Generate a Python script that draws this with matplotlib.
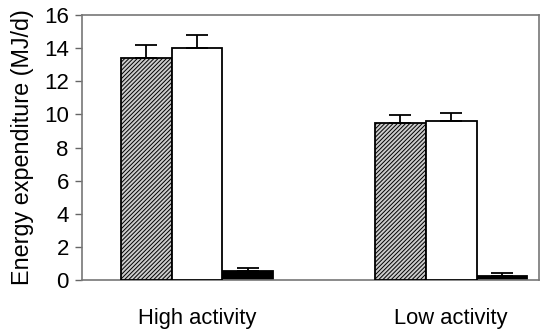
import matplotlib
matplotlib.use("Agg")
import matplotlib.pyplot as plt
import numpy as np

# data
groups = ["High activity", "Low activity"]
series_a = [13.4, 9.45]   # hatched
series_b = [14.0, 9.6]    # white
series_c = [0.55, 0.25]   # black
err_a = [0.8, 0.5]
err_b = [0.8, 0.5]
err_c = [0.15, 0.2]

plt.rcParams['font.family'] = ['Liberation Sans', 'DejaVu Sans']
plt.rcParams['hatch.linewidth'] = 0.7
plt.rcParams['hatch.color'] = '#333333'

fig = plt.figure(figsize=(5.5, 3.35), dpi=100)
ax = fig.add_axes([82 / 550, 1 - 280 / 335, 457 / 550, 265 / 335])

x = np.arange(len(groups))
w = 0.2
err_kw = dict(ecolor='black', elinewidth=1.3, capsize=8, capthick=1.3)

ax.bar(x - w, series_a, w, color='#cccccc', edgecolor='black', linewidth=1.3,
       hatch='////////', yerr=[np.zeros(2), err_a], error_kw=err_kw, zorder=3)
ax.bar(x, series_b, w, color='white', edgecolor='black', linewidth=1.3,
       yerr=[np.zeros(2), err_b], error_kw=err_kw, zorder=3)
ax.bar(x + w, series_c, w, color='black', edgecolor='black', linewidth=1.3,
       yerr=[np.zeros(2), err_c], error_kw=err_kw, zorder=2)

ax.set_xlim(-0.453, 1.346)
ax.set_ylim(0, 16)
ax.set_yticks(range(0, 17, 2))
ax.set_xticks(x)
ax.set_xticklabels(groups, fontsize=15.8)
ax.tick_params(axis='x', length=0, pad=20)
ax.tick_params(axis='y', labelsize=16, length=5, width=1, color='#666666', pad=4.5)
ax.set_ylabel("Energy expenditure (MJ/d)", fontsize=16.8, labelpad=7)

for s in ax.spines.values():
    s.set_color('#777777')
    s.set_linewidth(1.2)

fig.savefig("out.png", dpi=100)
